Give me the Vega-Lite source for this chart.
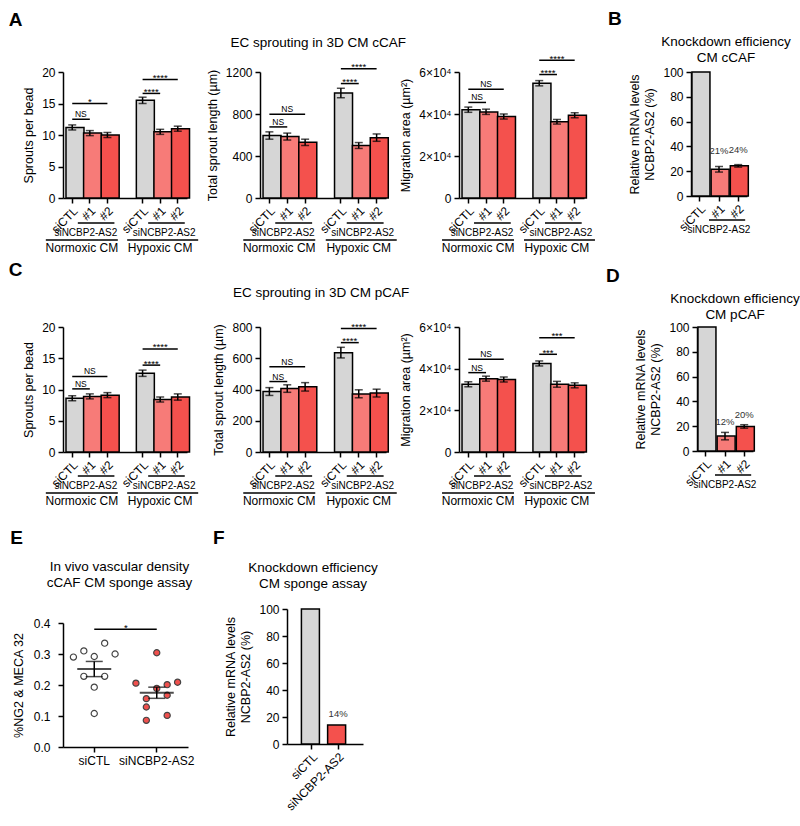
{
"$schema":"https://vega.github.io/schema/vega-lite/v6.json",
"background":"white",
"padding":{"left":8,"top":9,"right":4,"bottom":4},
"config":{
 "font":"Liberation Sans",
 "view":{"stroke":null},
 "axis":{"domainColor":"#000","tickColor":"#000","labelColor":"#000","titleColor":"#000","domainWidth":1.5,"tickWidth":1.5,"tickSize":5,"labelFontSize":12,"titleFontSize":12.5,"titleFontWeight":"normal","grid":false,"labelPadding":3,"titlePadding":6},
 "title":{"fontSize":13.5,"fontWeight":"normal","color":"#000"}
},
"datasets":{
 "bars":[
  {"p":"A1","c":"N_C","g":"siCTL","m":11.2,"lo":10.8,"hi":11.6},
  {"p":"A1","c":"N_1","g":"#1","m":10.3,"lo":9.9,"hi":10.7},
  {"p":"A1","c":"N_2","g":"#2","m":10.0,"lo":9.6,"hi":10.4},
  {"p":"A1","c":"H_C","g":"siCTL","m":15.5,"lo":15.0,"hi":16.0},
  {"p":"A1","c":"H_1","g":"#1","m":10.5,"lo":10.1,"hi":10.9},
  {"p":"A1","c":"H_2","g":"#2","m":11.0,"lo":10.6,"hi":11.4},
  {"p":"A2","c":"N_C","g":"siCTL","m":595,"lo":560,"hi":630},
  {"p":"A2","c":"N_1","g":"#1","m":585,"lo":552,"hi":618},
  {"p":"A2","c":"N_2","g":"#2","m":530,"lo":500,"hi":560},
  {"p":"A2","c":"H_C","g":"siCTL","m":1000,"lo":955,"hi":1045},
  {"p":"A2","c":"H_1","g":"#1","m":500,"lo":472,"hi":528},
  {"p":"A2","c":"H_2","g":"#2","m":575,"lo":540,"hi":610},
  {"p":"A3","c":"N_C","g":"siCTL","m":42000,"lo":40800,"hi":43300},
  {"p":"A3","c":"N_1","g":"#1","m":41000,"lo":39800,"hi":42300},
  {"p":"A3","c":"N_2","g":"#2","m":38800,"lo":37600,"hi":40000},
  {"p":"A3","c":"H_C","g":"siCTL","m":54600,"lo":53400,"hi":55900},
  {"p":"A3","c":"H_1","g":"#1","m":36300,"lo":35200,"hi":37400},
  {"p":"A3","c":"H_2","g":"#2","m":39400,"lo":38200,"hi":40600},
  {"p":"B","c":"C","g":"siCTL","m":100,"lo":100,"hi":100},
  {"p":"B","c":"1","g":"#1","m":21.5,"lo":19.3,"hi":23.8,"lab":"21%"},
  {"p":"B","c":"2","g":"#2","m":24.3,"lo":23.3,"hi":25.3,"lab":"24%"},
  {"p":"C1","c":"N_C","g":"siCTL","m":8.6,"lo":8.2,"hi":9.0},
  {"p":"C1","c":"N_1","g":"#1","m":8.9,"lo":8.5,"hi":9.3},
  {"p":"C1","c":"N_2","g":"#2","m":9.1,"lo":8.7,"hi":9.5},
  {"p":"C1","c":"H_C","g":"siCTL","m":12.6,"lo":12.1,"hi":13.1},
  {"p":"C1","c":"H_1","g":"#1","m":8.4,"lo":8.0,"hi":8.8},
  {"p":"C1","c":"H_2","g":"#2","m":8.8,"lo":8.3,"hi":9.3},
  {"p":"C2","c":"N_C","g":"siCTL","m":387,"lo":362,"hi":412},
  {"p":"C2","c":"N_1","g":"#1","m":406,"lo":382,"hi":430},
  {"p":"C2","c":"N_2","g":"#2","m":417,"lo":390,"hi":444},
  {"p":"C2","c":"H_C","g":"siCTL","m":636,"lo":602,"hi":670},
  {"p":"C2","c":"H_1","g":"#1","m":372,"lo":347,"hi":398},
  {"p":"C2","c":"H_2","g":"#2","m":377,"lo":352,"hi":402},
  {"p":"C3","c":"N_C","g":"siCTL","m":32500,"lo":31300,"hi":33700},
  {"p":"C3","c":"N_1","g":"#1","m":35200,"lo":34000,"hi":36400},
  {"p":"C3","c":"N_2","g":"#2","m":34800,"lo":33600,"hi":36000},
  {"p":"C3","c":"H_C","g":"siCTL","m":42500,"lo":41300,"hi":43700},
  {"p":"C3","c":"H_1","g":"#1","m":32500,"lo":31100,"hi":33900},
  {"p":"C3","c":"H_2","g":"#2","m":32000,"lo":30800,"hi":33200},
  {"p":"D","c":"C","g":"siCTL","m":100,"lo":100,"hi":100},
  {"p":"D","c":"1","g":"#1","m":12,"lo":9,"hi":15,"lab":"12%"},
  {"p":"D","c":"2","g":"#2","m":19.8,"lo":18.4,"hi":21.2,"lab":"20%"},
  {"p":"F","c":"siCTL","g":"siCTL","m":100,"lo":100,"hi":100},
  {"p":"F","c":"siNCBP2-AS2","g":"#2","m":14,"lo":14,"hi":14,"lab":"14%"}
 ],
 "sigl":[
  {"p":"A1","c":"N_C","c2":"N_1","m":12.5},{"p":"A1","c":"N_C","c2":"N_2","m":15.0},{"p":"A1","c":"H_C","c2":"H_1","m":16.6},{"p":"A1","c":"H_C","c2":"H_2","m":18.8},
  {"p":"A2","c":"N_C","c2":"N_1","m":677},{"p":"A2","c":"N_C","c2":"N_2","m":798},{"p":"A2","c":"H_C","c2":"H_1","m":1090},{"p":"A2","c":"H_C","c2":"H_2","m":1232},
  {"p":"A3","c":"N_C","c2":"N_1","m":45500},{"p":"A3","c":"N_C","c2":"N_2","m":51800},{"p":"A3","c":"H_C","c2":"H_1","m":58800},{"p":"A3","c":"H_C","c2":"H_2","m":65600},
  {"p":"C1","c":"N_C","c2":"N_1","m":10.1},{"p":"C1","c":"N_C","c2":"N_2","m":12.1},{"p":"C1","c":"H_C","c2":"H_1","m":13.9},{"p":"C1","c":"H_C","c2":"H_2","m":16.5},
  {"p":"C2","c":"N_C","c2":"N_1","m":451},{"p":"C2","c":"N_C","c2":"N_2","m":545},{"p":"C2","c":"H_C","c2":"H_1","m":700},{"p":"C2","c":"H_C","c2":"H_2","m":791},
  {"p":"C3","c":"N_C","c2":"N_1","m":38100},{"p":"C3","c":"N_C","c2":"N_2","m":44500},{"p":"C3","c":"H_C","c2":"H_1","m":46900},{"p":"C3","c":"H_C","c2":"H_2","m":54800},
  {"p":"E","c":"siCTL","c2":"siNCBP2-AS2","m":0.38}
 ],
 "sigt":[
  {"p":"A1","c":"N_1","m":12.5,"t":"NS","k":"s"},{"p":"A1","c":"N_1","m":15.0,"t":"*","k":"l"},{"p":"A1","c":"H_1","m":16.6,"t":"****","k":"s"},{"p":"A1","c":"H_1","m":18.8,"t":"****","k":"l"},
  {"p":"A2","c":"N_1","m":677,"t":"NS","k":"s"},{"p":"A2","c":"N_1","m":798,"t":"NS","k":"l"},{"p":"A2","c":"H_1","m":1090,"t":"****","k":"s"},{"p":"A2","c":"H_1","m":1232,"t":"****","k":"l"},
  {"p":"A3","c":"N_1","m":45500,"t":"NS","k":"s"},{"p":"A3","c":"N_1","m":51800,"t":"NS","k":"l"},{"p":"A3","c":"H_1","m":58800,"t":"****","k":"s"},{"p":"A3","c":"H_1","m":65600,"t":"****","k":"l"},
  {"p":"C1","c":"N_1","m":10.1,"t":"NS","k":"s"},{"p":"C1","c":"N_1","m":12.1,"t":"NS","k":"l"},{"p":"C1","c":"H_1","m":13.9,"t":"****","k":"s"},{"p":"C1","c":"H_1","m":16.5,"t":"****","k":"l"},
  {"p":"C2","c":"N_1","m":451,"t":"NS","k":"s"},{"p":"C2","c":"N_1","m":545,"t":"NS","k":"l"},{"p":"C2","c":"H_1","m":700,"t":"****","k":"s"},{"p":"C2","c":"H_1","m":791,"t":"****","k":"l"},
  {"p":"C3","c":"N_1","m":38100,"t":"NS","k":"s"},{"p":"C3","c":"N_1","m":44500,"t":"NS","k":"l"},{"p":"C3","c":"H_1","m":46900,"t":"***","k":"s"},{"p":"C3","c":"H_1","m":54800,"t":"***","k":"l"},
  {"p":"E","c":"siNCBP2-AS2","m":0.38,"t":"*","k":"e"}
 ],
 "under":[
  {"g":"N","c":"N_1","c2":"N_2","t":"siNCBP2-AS2","l":"Normoxic CM"},
  {"g":"H","c":"H_1","c2":"H_2","t":"siNCBP2-AS2","l":"Hypoxic CM"}
 ],
 "underB":[{"c":"1","c2":"2","t":"siNCBP2-AS2"}],
 "pts":[
  {"c":"siCTL","v":0.335,"r":4},{"c":"siCTL","v":0.31,"r":2},{"c":"siCTL","v":0.30,"r":5},{"c":"siCTL","v":0.29,"r":1},{"c":"siCTL","v":0.292,"r":3},{"c":"siCTL","v":0.228,"r":2},{"c":"siCTL","v":0.228,"r":4},{"c":"siCTL","v":0.193,"r":3},{"c":"siCTL","v":0.108,"r":3},
  {"c":"siNCBP2-AS2","v":0.304,"r":3},{"c":"siNCBP2-AS2","v":0.206,"r":1},{"c":"siNCBP2-AS2","v":0.201,"r":4},{"c":"siNCBP2-AS2","v":0.209,"r":5},{"c":"siNCBP2-AS2","v":0.189,"r":3},{"c":"siNCBP2-AS2","v":0.156,"r":2},{"c":"siNCBP2-AS2","v":0.167,"r":4},{"c":"siNCBP2-AS2","v":0.129,"r":2},{"c":"siNCBP2-AS2","v":0.102,"r":4},{"c":"siNCBP2-AS2","v":0.086,"r":2}
 ],
 "stats":[
  {"c":"siCTL","m":0.252,"lo":0.227,"hi":0.276},
  {"c":"siNCBP2-AS2","m":0.175,"lo":0.157,"hi":0.193}
 ]
},
"vconcat":[
 {"vconcat":[
  {"hconcat":[
   {"title":{"text":"A","anchor":"start","fontSize":19,"fontWeight":"bold","dx":-14,"offset":6},
    "vconcat":[{"title":{"text":"EC sprouting in 3D CM cCAF","anchor":"middle","dx":9,"offset":4},"bounds":"flush","spacing":73,"hconcat":[
     {"width":124,"height":126,
      "encoding":{"x":{"field":"c","type":"nominal","scale":{"domain":["N_C","N_1","N_2","gap","H_C","H_1","H_2"],"paddingInner":0.29,"paddingOuter":0.17},"axis":{"title":null,"values":["N_C","N_1","N_2","H_C","H_1","H_2"],"labelAngle":-45,"labelPadding":2,"labelExpr":"substring(datum.value,2)=='C' ? 'siCTL' : '#' + substring(datum.value,2)"}}},
      "layer":[
       {"data":{"name":"bars"},"transform":[{"filter":"datum.p=='A1'"}],"mark":{"type":"bar","stroke":"#000","strokeWidth":1.5},"encoding":{"y":{"field":"m","type":"quantitative","scale":{"domain":[0,20],"nice":false},"axis":{"title":"Sprouts per bead","values":[0,5,10,15,20],"tickCount":20}},"color":{"field":"g","type":"nominal","scale":{"domain":["siCTL","#1","#2"],"range":["#d6d6d6","#f77b78","#f4514d"]},"legend":null}}},
       {"data":{"name":"bars"},"transform":[{"filter":"datum.p=='A1'"}],"mark":{"type":"rule","color":"#000","strokeWidth":1.5},"encoding":{"y":{"field":"lo","type":"quantitative"},"y2":{"field":"hi"}}},
       {"data":{"name":"bars"},"transform":[{"filter":"datum.p=='A1'"}],"mark":{"type":"tick","color":"#000","size":8,"thickness":1.5},"encoding":{"y":{"field":"lo","type":"quantitative"}}},
       {"data":{"name":"bars"},"transform":[{"filter":"datum.p=='A1'"}],"mark":{"type":"tick","color":"#000","size":8,"thickness":1.5},"encoding":{"y":{"field":"hi","type":"quantitative"}}},
       {"data":{"name":"sigl"},"transform":[{"filter":"datum.p=='A1'"}],"mark":{"type":"rule","color":"#000","strokeWidth":1.5},"encoding":{"x2":{"field":"c2"},"y":{"field":"m","type":"quantitative","scale":{"domain":[0,20],"nice":false}}}},
       {"data":{"name":"sigt"},"transform":[{"filter":"datum.p=='A1' && datum.k=='s' && datum.t=='NS'"}],"mark":{"type":"text","fontSize":8.5,"xOffset":-9,"dy":-2,"baseline":"alphabetic"},"encoding":{"y":{"field":"m","type":"quantitative","scale":{"domain":[0,20],"nice":false}},"text":{"field":"t"}}},
       {"data":{"name":"sigt"},"transform":[{"filter":"datum.p=='A1' && datum.k=='s' && datum.t!='NS'"}],"mark":{"type":"text","fontSize":9.5,"xOffset":-9,"dy":1.5,"baseline":"alphabetic"},"encoding":{"y":{"field":"m","type":"quantitative","scale":{"domain":[0,20],"nice":false}},"text":{"field":"t"}}},
       {"data":{"name":"sigt"},"transform":[{"filter":"datum.p=='A1' && datum.k=='l' && datum.t=='NS'"}],"mark":{"type":"text","fontSize":8.5,"dy":-2,"baseline":"alphabetic"},"encoding":{"y":{"field":"m","type":"quantitative","scale":{"domain":[0,20],"nice":false}},"text":{"field":"t"}}},
       {"data":{"name":"sigt"},"transform":[{"filter":"datum.p=='A1' && datum.k=='l' && datum.t!='NS'"}],"mark":{"type":"text","fontSize":9.5,"dy":1.5,"baseline":"alphabetic"},"encoding":{"y":{"field":"m","type":"quantitative","scale":{"domain":[0,20],"nice":false}},"text":{"field":"t"}}},
       {"data":{"name":"under"},"mark":{"type":"rule","color":"#000","strokeWidth":1.5,"yOffset":25,"xOffset":-12,"x2Offset":7},"encoding":{"x2":{"field":"c2"},"y":{"datum":0}}},
       {"data":{"name":"under"},"transform":[{"filter":"datum.g=='N'"}],"mark":{"type":"text","fontSize":10,"yOffset":35,"xOffset":-4},"encoding":{"y":{"datum":0},"text":{"field":"t"}}},
       {"data":{"name":"under"},"transform":[{"filter":"datum.g=='H'"}],"mark":{"type":"text","fontSize":10,"yOffset":35,"xOffset":4},"encoding":{"y":{"datum":0},"text":{"field":"t"}}},
       {"data":{"name":"under"},"transform":[{"filter":"datum.g=='N'"}],"mark":{"type":"rule","color":"#000","strokeWidth":1.5,"yOffset":42,"xOffset":-44,"x2Offset":28},"encoding":{"x2":{"field":"c"},"y":{"datum":0}}},
       {"data":{"name":"under"},"transform":[{"filter":"datum.g=='H'"}],"mark":{"type":"rule","color":"#000","strokeWidth":1.5,"yOffset":42,"xOffset":-33,"x2Offset":38},"encoding":{"x2":{"field":"c"},"y":{"datum":0}}},
       {"data":{"name":"under"},"transform":[{"filter":"datum.g=='N'"}],"mark":{"type":"text","fontSize":12,"yOffset":50,"xOffset":-8},"encoding":{"y":{"datum":0},"text":{"field":"l"}}},
       {"data":{"name":"under"},"transform":[{"filter":"datum.g=='H'"}],"mark":{"type":"text","fontSize":12,"yOffset":50,"xOffset":0},"encoding":{"y":{"datum":0},"text":{"field":"l"}}}
      ]},
     {"width":126,"height":126,
      "encoding":{"x":{"field":"c","type":"nominal","scale":{"domain":["N_C","N_1","N_2","gap","H_C","H_1","H_2"],"paddingInner":0.29,"paddingOuter":0.17},"axis":{"title":null,"values":["N_C","N_1","N_2","H_C","H_1","H_2"],"labelAngle":-45,"labelPadding":2,"labelExpr":"substring(datum.value,2)=='C' ? 'siCTL' : '#' + substring(datum.value,2)"}}},
      "layer":[
       {"data":{"name":"bars"},"transform":[{"filter":"datum.p=='A2'"}],"mark":{"type":"bar","stroke":"#000","strokeWidth":1.5},"encoding":{"y":{"field":"m","type":"quantitative","scale":{"domain":[0,1200],"nice":false},"axis":{"title":"Total sprout length (µm)","values":[0,400,800,1200],"tickCount":20,"format":"d"}},"color":{"field":"g","type":"nominal","scale":{"domain":["siCTL","#1","#2"],"range":["#d6d6d6","#f77b78","#f4514d"]},"legend":null}}},
       {"data":{"name":"bars"},"transform":[{"filter":"datum.p=='A2'"}],"mark":{"type":"rule","color":"#000","strokeWidth":1.5},"encoding":{"y":{"field":"lo","type":"quantitative"},"y2":{"field":"hi"}}},
       {"data":{"name":"bars"},"transform":[{"filter":"datum.p=='A2'"}],"mark":{"type":"tick","color":"#000","size":8,"thickness":1.5},"encoding":{"y":{"field":"lo","type":"quantitative"}}},
       {"data":{"name":"bars"},"transform":[{"filter":"datum.p=='A2'"}],"mark":{"type":"tick","color":"#000","size":8,"thickness":1.5},"encoding":{"y":{"field":"hi","type":"quantitative"}}},
       {"data":{"name":"sigl"},"transform":[{"filter":"datum.p=='A2'"}],"mark":{"type":"rule","color":"#000","strokeWidth":1.5},"encoding":{"x2":{"field":"c2"},"y":{"field":"m","type":"quantitative","scale":{"domain":[0,1200],"nice":false}}}},
       {"data":{"name":"sigt"},"transform":[{"filter":"datum.p=='A2' && datum.k=='s' && datum.t=='NS'"}],"mark":{"type":"text","fontSize":8.5,"xOffset":-9,"dy":-2,"baseline":"alphabetic"},"encoding":{"y":{"field":"m","type":"quantitative","scale":{"domain":[0,1200],"nice":false}},"text":{"field":"t"}}},
       {"data":{"name":"sigt"},"transform":[{"filter":"datum.p=='A2' && datum.k=='s' && datum.t!='NS'"}],"mark":{"type":"text","fontSize":9.5,"xOffset":-9,"dy":1.5,"baseline":"alphabetic"},"encoding":{"y":{"field":"m","type":"quantitative","scale":{"domain":[0,1200],"nice":false}},"text":{"field":"t"}}},
       {"data":{"name":"sigt"},"transform":[{"filter":"datum.p=='A2' && datum.k=='l' && datum.t=='NS'"}],"mark":{"type":"text","fontSize":8.5,"dy":-2,"baseline":"alphabetic"},"encoding":{"y":{"field":"m","type":"quantitative","scale":{"domain":[0,1200],"nice":false}},"text":{"field":"t"}}},
       {"data":{"name":"sigt"},"transform":[{"filter":"datum.p=='A2' && datum.k=='l' && datum.t!='NS'"}],"mark":{"type":"text","fontSize":9.5,"dy":1.5,"baseline":"alphabetic"},"encoding":{"y":{"field":"m","type":"quantitative","scale":{"domain":[0,1200],"nice":false}},"text":{"field":"t"}}},
       {"data":{"name":"under"},"mark":{"type":"rule","color":"#000","strokeWidth":1.5,"yOffset":25,"xOffset":-12,"x2Offset":7},"encoding":{"x2":{"field":"c2"},"y":{"datum":0}}},
       {"data":{"name":"under"},"transform":[{"filter":"datum.g=='N'"}],"mark":{"type":"text","fontSize":10,"yOffset":35,"xOffset":-4},"encoding":{"y":{"datum":0},"text":{"field":"t"}}},
       {"data":{"name":"under"},"transform":[{"filter":"datum.g=='H'"}],"mark":{"type":"text","fontSize":10,"yOffset":35,"xOffset":4},"encoding":{"y":{"datum":0},"text":{"field":"t"}}},
       {"data":{"name":"under"},"transform":[{"filter":"datum.g=='N'"}],"mark":{"type":"rule","color":"#000","strokeWidth":1.5,"yOffset":42,"xOffset":-44,"x2Offset":28},"encoding":{"x2":{"field":"c"},"y":{"datum":0}}},
       {"data":{"name":"under"},"transform":[{"filter":"datum.g=='H'"}],"mark":{"type":"rule","color":"#000","strokeWidth":1.5,"yOffset":42,"xOffset":-33,"x2Offset":38},"encoding":{"x2":{"field":"c"},"y":{"datum":0}}},
       {"data":{"name":"under"},"transform":[{"filter":"datum.g=='N'"}],"mark":{"type":"text","fontSize":12,"yOffset":50,"xOffset":-8},"encoding":{"y":{"datum":0},"text":{"field":"l"}}},
       {"data":{"name":"under"},"transform":[{"filter":"datum.g=='H'"}],"mark":{"type":"text","fontSize":12,"yOffset":50,"xOffset":0},"encoding":{"y":{"datum":0},"text":{"field":"l"}}}
      ]},
     {"width":125,"height":126,
      "encoding":{"x":{"field":"c","type":"nominal","scale":{"domain":["N_C","N_1","N_2","gap","H_C","H_1","H_2"],"paddingInner":0.29,"paddingOuter":0.17},"axis":{"title":null,"values":["N_C","N_1","N_2","H_C","H_1","H_2"],"labelAngle":-45,"labelPadding":2,"labelExpr":"substring(datum.value,2)=='C' ? 'siCTL' : '#' + substring(datum.value,2)"}}},
      "layer":[
       {"data":{"name":"bars"},"transform":[{"filter":"datum.p=='A3'"}],"mark":{"type":"bar","stroke":"#000","strokeWidth":1.5},"encoding":{"y":{"field":"m","type":"quantitative","scale":{"domain":[0,60000],"nice":false},"axis":{"title":"Migration area (µm²)","values":[0,20000,40000,60000],"tickCount":20,"labelExpr":"datum.value==0 ? '0' : (datum.value/10000) + '×10⁴'"}},"color":{"field":"g","type":"nominal","scale":{"domain":["siCTL","#1","#2"],"range":["#d6d6d6","#f77b78","#f4514d"]},"legend":null}}},
       {"data":{"name":"bars"},"transform":[{"filter":"datum.p=='A3'"}],"mark":{"type":"rule","color":"#000","strokeWidth":1.5},"encoding":{"y":{"field":"lo","type":"quantitative"},"y2":{"field":"hi"}}},
       {"data":{"name":"bars"},"transform":[{"filter":"datum.p=='A3'"}],"mark":{"type":"tick","color":"#000","size":8,"thickness":1.5},"encoding":{"y":{"field":"lo","type":"quantitative"}}},
       {"data":{"name":"bars"},"transform":[{"filter":"datum.p=='A3'"}],"mark":{"type":"tick","color":"#000","size":8,"thickness":1.5},"encoding":{"y":{"field":"hi","type":"quantitative"}}},
       {"data":{"name":"sigl"},"transform":[{"filter":"datum.p=='A3'"}],"mark":{"type":"rule","color":"#000","strokeWidth":1.5},"encoding":{"x2":{"field":"c2"},"y":{"field":"m","type":"quantitative","scale":{"domain":[0,60000],"nice":false}}}},
       {"data":{"name":"sigt"},"transform":[{"filter":"datum.p=='A3' && datum.k=='s' && datum.t=='NS'"}],"mark":{"type":"text","fontSize":8.5,"xOffset":-9,"dy":-2,"baseline":"alphabetic"},"encoding":{"y":{"field":"m","type":"quantitative","scale":{"domain":[0,60000],"nice":false}},"text":{"field":"t"}}},
       {"data":{"name":"sigt"},"transform":[{"filter":"datum.p=='A3' && datum.k=='s' && datum.t!='NS'"}],"mark":{"type":"text","fontSize":9.5,"xOffset":-9,"dy":1.5,"baseline":"alphabetic"},"encoding":{"y":{"field":"m","type":"quantitative","scale":{"domain":[0,60000],"nice":false}},"text":{"field":"t"}}},
       {"data":{"name":"sigt"},"transform":[{"filter":"datum.p=='A3' && datum.k=='l' && datum.t=='NS'"}],"mark":{"type":"text","fontSize":8.5,"dy":-2,"baseline":"alphabetic"},"encoding":{"y":{"field":"m","type":"quantitative","scale":{"domain":[0,60000],"nice":false}},"text":{"field":"t"}}},
       {"data":{"name":"sigt"},"transform":[{"filter":"datum.p=='A3' && datum.k=='l' && datum.t!='NS'"}],"mark":{"type":"text","fontSize":9.5,"dy":1.5,"baseline":"alphabetic"},"encoding":{"y":{"field":"m","type":"quantitative","scale":{"domain":[0,60000],"nice":false}},"text":{"field":"t"}}},
       {"data":{"name":"under"},"mark":{"type":"rule","color":"#000","strokeWidth":1.5,"yOffset":25,"xOffset":-12,"x2Offset":7},"encoding":{"x2":{"field":"c2"},"y":{"datum":0}}},
       {"data":{"name":"under"},"transform":[{"filter":"datum.g=='N'"}],"mark":{"type":"text","fontSize":10,"yOffset":35,"xOffset":-4},"encoding":{"y":{"datum":0},"text":{"field":"t"}}},
       {"data":{"name":"under"},"transform":[{"filter":"datum.g=='H'"}],"mark":{"type":"text","fontSize":10,"yOffset":35,"xOffset":4},"encoding":{"y":{"datum":0},"text":{"field":"t"}}},
       {"data":{"name":"under"},"transform":[{"filter":"datum.g=='N'"}],"mark":{"type":"rule","color":"#000","strokeWidth":1.5,"yOffset":42,"xOffset":-44,"x2Offset":28},"encoding":{"x2":{"field":"c"},"y":{"datum":0}}},
       {"data":{"name":"under"},"transform":[{"filter":"datum.g=='H'"}],"mark":{"type":"rule","color":"#000","strokeWidth":1.5,"yOffset":42,"xOffset":-33,"x2Offset":38},"encoding":{"x2":{"field":"c"},"y":{"datum":0}}},
       {"data":{"name":"under"},"transform":[{"filter":"datum.g=='N'"}],"mark":{"type":"text","fontSize":12,"yOffset":50,"xOffset":-8},"encoding":{"y":{"datum":0},"text":{"field":"l"}}},
       {"data":{"name":"under"},"transform":[{"filter":"datum.g=='H'"}],"mark":{"type":"text","fontSize":12,"yOffset":50,"xOffset":0},"encoding":{"y":{"datum":0},"text":{"field":"l"}}}
      ]}
    ]}]},
   {"title":{"text":"B","anchor":"start","fontSize":19,"fontWeight":"bold","dx":-21,"offset":6},
    "vconcat":[
     {"width":56,"height":124,"title":{"text":["Knockdown efficiency","CM cCAF"],"anchor":"middle","frame":"group","dx":7,"offset":2,"lineHeight":16},
      "encoding":{"x":{"field":"c","type":"nominal","scale":{"domain":["C","1","2"],"paddingInner":0.18,"paddingOuter":0.05},"axis":{"title":null,"labelAngle":-45,"labelPadding":2,"labelExpr":"datum.value=='C' ? 'siCTL' : '#' + datum.value"}}},
      "layer":[
       {"data":{"name":"bars"},"transform":[{"filter":"datum.p=='B'"}],"mark":{"type":"bar","stroke":"#000","strokeWidth":1.5},"encoding":{"y":{"field":"m","type":"quantitative","scale":{"domain":[0,100],"nice":false},"axis":{"title":["Relative mRNA levels","NCBP2-AS2 (%)"],"titleLineHeight":15,"values":[0,20,40,60,80,100],"tickCount":20}},"color":{"field":"g","type":"nominal","scale":{"domain":["siCTL","#1","#2"],"range":["#d6d6d6","#f77b78","#f4514d"]},"legend":null}}},
       {"data":{"name":"bars"},"transform":[{"filter":"datum.p=='B' && datum.lo<datum.hi"}],"mark":{"type":"rule","color":"#000","strokeWidth":1.5},"encoding":{"y":{"field":"lo","type":"quantitative"},"y2":{"field":"hi"}}},
       {"data":{"name":"bars"},"transform":[{"filter":"datum.p=='B' && datum.lo<datum.hi"}],"mark":{"type":"tick","color":"#000","size":8,"thickness":1.5},"encoding":{"y":{"field":"lo","type":"quantitative"}}},
       {"data":{"name":"bars"},"transform":[{"filter":"datum.p=='B' && datum.lo<datum.hi"}],"mark":{"type":"tick","color":"#000","size":8,"thickness":1.5},"encoding":{"y":{"field":"hi","type":"quantitative"}}},
       {"data":{"name":"bars"},"transform":[{"filter":"datum.p=='B' && isValid(datum.lab)"}],"mark":{"type":"text","fontSize":9.5,"dy":-15,"color":"#333"},"encoding":{"y":{"field":"hi","type":"quantitative"},"text":{"field":"lab"}}},
       {"data":{"name":"underB"},"mark":{"type":"rule","color":"#000","strokeWidth":1.5,"yOffset":24,"xOffset":-10,"x2Offset":7},"encoding":{"x2":{"field":"c2"},"y":{"datum":0}}},
       {"data":{"name":"underB"},"mark":{"type":"text","fontSize":10,"yOffset":34},"encoding":{"y":{"datum":0},"text":{"field":"t"}}}
      ]}
    ]}
  ],"spacing":11},
  {"hconcat":[
   {"title":{"text":"C","anchor":"start","fontSize":19,"fontWeight":"bold","dx":-14,"offset":6},
    "vconcat":[{"title":{"text":"EC sprouting in 3D CM pCAF","anchor":"middle","dx":12,"offset":22},"bounds":"flush","spacing":73,"hconcat":[
     {"width":124,"height":125,
      "encoding":{"x":{"field":"c","type":"nominal","scale":{"domain":["N_C","N_1","N_2","gap","H_C","H_1","H_2"],"paddingInner":0.29,"paddingOuter":0.17},"axis":{"title":null,"values":["N_C","N_1","N_2","H_C","H_1","H_2"],"labelAngle":-45,"labelPadding":2,"labelExpr":"substring(datum.value,2)=='C' ? 'siCTL' : '#' + substring(datum.value,2)"}}},
      "layer":[
       {"data":{"name":"bars"},"transform":[{"filter":"datum.p=='C1'"}],"mark":{"type":"bar","stroke":"#000","strokeWidth":1.5},"encoding":{"y":{"field":"m","type":"quantitative","scale":{"domain":[0,20],"nice":false},"axis":{"title":"Sprouts per bead","values":[0,5,10,15,20],"tickCount":20}},"color":{"field":"g","type":"nominal","scale":{"domain":["siCTL","#1","#2"],"range":["#d6d6d6","#f77b78","#f4514d"]},"legend":null}}},
       {"data":{"name":"bars"},"transform":[{"filter":"datum.p=='C1'"}],"mark":{"type":"rule","color":"#000","strokeWidth":1.5},"encoding":{"y":{"field":"lo","type":"quantitative"},"y2":{"field":"hi"}}},
       {"data":{"name":"bars"},"transform":[{"filter":"datum.p=='C1'"}],"mark":{"type":"tick","color":"#000","size":8,"thickness":1.5},"encoding":{"y":{"field":"lo","type":"quantitative"}}},
       {"data":{"name":"bars"},"transform":[{"filter":"datum.p=='C1'"}],"mark":{"type":"tick","color":"#000","size":8,"thickness":1.5},"encoding":{"y":{"field":"hi","type":"quantitative"}}},
       {"data":{"name":"sigl"},"transform":[{"filter":"datum.p=='C1'"}],"mark":{"type":"rule","color":"#000","strokeWidth":1.5},"encoding":{"x2":{"field":"c2"},"y":{"field":"m","type":"quantitative","scale":{"domain":[0,20],"nice":false}}}},
       {"data":{"name":"sigt"},"transform":[{"filter":"datum.p=='C1' && datum.k=='s' && datum.t=='NS'"}],"mark":{"type":"text","fontSize":8.5,"xOffset":-9,"dy":-2,"baseline":"alphabetic"},"encoding":{"y":{"field":"m","type":"quantitative","scale":{"domain":[0,20],"nice":false}},"text":{"field":"t"}}},
       {"data":{"name":"sigt"},"transform":[{"filter":"datum.p=='C1' && datum.k=='s' && datum.t!='NS'"}],"mark":{"type":"text","fontSize":9.5,"xOffset":-9,"dy":1.5,"baseline":"alphabetic"},"encoding":{"y":{"field":"m","type":"quantitative","scale":{"domain":[0,20],"nice":false}},"text":{"field":"t"}}},
       {"data":{"name":"sigt"},"transform":[{"filter":"datum.p=='C1' && datum.k=='l' && datum.t=='NS'"}],"mark":{"type":"text","fontSize":8.5,"dy":-2,"baseline":"alphabetic"},"encoding":{"y":{"field":"m","type":"quantitative","scale":{"domain":[0,20],"nice":false}},"text":{"field":"t"}}},
       {"data":{"name":"sigt"},"transform":[{"filter":"datum.p=='C1' && datum.k=='l' && datum.t!='NS'"}],"mark":{"type":"text","fontSize":9.5,"dy":1.5,"baseline":"alphabetic"},"encoding":{"y":{"field":"m","type":"quantitative","scale":{"domain":[0,20],"nice":false}},"text":{"field":"t"}}},
       {"data":{"name":"under"},"mark":{"type":"rule","color":"#000","strokeWidth":1.5,"yOffset":24,"xOffset":-12,"x2Offset":7},"encoding":{"x2":{"field":"c2"},"y":{"datum":0}}},
       {"data":{"name":"under"},"transform":[{"filter":"datum.g=='N'"}],"mark":{"type":"text","fontSize":10,"yOffset":34,"xOffset":-4},"encoding":{"y":{"datum":0},"text":{"field":"t"}}},
       {"data":{"name":"under"},"transform":[{"filter":"datum.g=='H'"}],"mark":{"type":"text","fontSize":10,"yOffset":34,"xOffset":4},"encoding":{"y":{"datum":0},"text":{"field":"t"}}},
       {"data":{"name":"under"},"transform":[{"filter":"datum.g=='N'"}],"mark":{"type":"rule","color":"#000","strokeWidth":1.5,"yOffset":41,"xOffset":-44,"x2Offset":28},"encoding":{"x2":{"field":"c"},"y":{"datum":0}}},
       {"data":{"name":"under"},"transform":[{"filter":"datum.g=='H'"}],"mark":{"type":"rule","color":"#000","strokeWidth":1.5,"yOffset":41,"xOffset":-33,"x2Offset":38},"encoding":{"x2":{"field":"c"},"y":{"datum":0}}},
       {"data":{"name":"under"},"transform":[{"filter":"datum.g=='N'"}],"mark":{"type":"text","fontSize":12,"yOffset":49,"xOffset":-8},"encoding":{"y":{"datum":0},"text":{"field":"l"}}},
       {"data":{"name":"under"},"transform":[{"filter":"datum.g=='H'"}],"mark":{"type":"text","fontSize":12,"yOffset":49,"xOffset":0},"encoding":{"y":{"datum":0},"text":{"field":"l"}}}
      ]},
     {"width":126,"height":125,
      "encoding":{"x":{"field":"c","type":"nominal","scale":{"domain":["N_C","N_1","N_2","gap","H_C","H_1","H_2"],"paddingInner":0.29,"paddingOuter":0.17},"axis":{"title":null,"values":["N_C","N_1","N_2","H_C","H_1","H_2"],"labelAngle":-45,"labelPadding":2,"labelExpr":"substring(datum.value,2)=='C' ? 'siCTL' : '#' + substring(datum.value,2)"}}},
      "layer":[
       {"data":{"name":"bars"},"transform":[{"filter":"datum.p=='C2'"}],"mark":{"type":"bar","stroke":"#000","strokeWidth":1.5},"encoding":{"y":{"field":"m","type":"quantitative","scale":{"domain":[0,800],"nice":false},"axis":{"title":"Total sprout length (µm)","values":[0,200,400,600,800],"tickCount":20,"format":"d"}},"color":{"field":"g","type":"nominal","scale":{"domain":["siCTL","#1","#2"],"range":["#d6d6d6","#f77b78","#f4514d"]},"legend":null}}},
       {"data":{"name":"bars"},"transform":[{"filter":"datum.p=='C2'"}],"mark":{"type":"rule","color":"#000","strokeWidth":1.5},"encoding":{"y":{"field":"lo","type":"quantitative"},"y2":{"field":"hi"}}},
       {"data":{"name":"bars"},"transform":[{"filter":"datum.p=='C2'"}],"mark":{"type":"tick","color":"#000","size":8,"thickness":1.5},"encoding":{"y":{"field":"lo","type":"quantitative"}}},
       {"data":{"name":"bars"},"transform":[{"filter":"datum.p=='C2'"}],"mark":{"type":"tick","color":"#000","size":8,"thickness":1.5},"encoding":{"y":{"field":"hi","type":"quantitative"}}},
       {"data":{"name":"sigl"},"transform":[{"filter":"datum.p=='C2'"}],"mark":{"type":"rule","color":"#000","strokeWidth":1.5},"encoding":{"x2":{"field":"c2"},"y":{"field":"m","type":"quantitative","scale":{"domain":[0,800],"nice":false}}}},
       {"data":{"name":"sigt"},"transform":[{"filter":"datum.p=='C2' && datum.k=='s' && datum.t=='NS'"}],"mark":{"type":"text","fontSize":8.5,"xOffset":-9,"dy":-2,"baseline":"alphabetic"},"encoding":{"y":{"field":"m","type":"quantitative","scale":{"domain":[0,800],"nice":false}},"text":{"field":"t"}}},
       {"data":{"name":"sigt"},"transform":[{"filter":"datum.p=='C2' && datum.k=='s' && datum.t!='NS'"}],"mark":{"type":"text","fontSize":9.5,"xOffset":-9,"dy":1.5,"baseline":"alphabetic"},"encoding":{"y":{"field":"m","type":"quantitative","scale":{"domain":[0,800],"nice":false}},"text":{"field":"t"}}},
       {"data":{"name":"sigt"},"transform":[{"filter":"datum.p=='C2' && datum.k=='l' && datum.t=='NS'"}],"mark":{"type":"text","fontSize":8.5,"dy":-2,"baseline":"alphabetic"},"encoding":{"y":{"field":"m","type":"quantitative","scale":{"domain":[0,800],"nice":false}},"text":{"field":"t"}}},
       {"data":{"name":"sigt"},"transform":[{"filter":"datum.p=='C2' && datum.k=='l' && datum.t!='NS'"}],"mark":{"type":"text","fontSize":9.5,"dy":1.5,"baseline":"alphabetic"},"encoding":{"y":{"field":"m","type":"quantitative","scale":{"domain":[0,800],"nice":false}},"text":{"field":"t"}}},
       {"data":{"name":"under"},"mark":{"type":"rule","color":"#000","strokeWidth":1.5,"yOffset":24,"xOffset":-12,"x2Offset":7},"encoding":{"x2":{"field":"c2"},"y":{"datum":0}}},
       {"data":{"name":"under"},"transform":[{"filter":"datum.g=='N'"}],"mark":{"type":"text","fontSize":10,"yOffset":34,"xOffset":-4},"encoding":{"y":{"datum":0},"text":{"field":"t"}}},
       {"data":{"name":"under"},"transform":[{"filter":"datum.g=='H'"}],"mark":{"type":"text","fontSize":10,"yOffset":34,"xOffset":4},"encoding":{"y":{"datum":0},"text":{"field":"t"}}},
       {"data":{"name":"under"},"transform":[{"filter":"datum.g=='N'"}],"mark":{"type":"rule","color":"#000","strokeWidth":1.5,"yOffset":41,"xOffset":-44,"x2Offset":28},"encoding":{"x2":{"field":"c"},"y":{"datum":0}}},
       {"data":{"name":"under"},"transform":[{"filter":"datum.g=='H'"}],"mark":{"type":"rule","color":"#000","strokeWidth":1.5,"yOffset":41,"xOffset":-33,"x2Offset":38},"encoding":{"x2":{"field":"c"},"y":{"datum":0}}},
       {"data":{"name":"under"},"transform":[{"filter":"datum.g=='N'"}],"mark":{"type":"text","fontSize":12,"yOffset":49,"xOffset":-8},"encoding":{"y":{"datum":0},"text":{"field":"l"}}},
       {"data":{"name":"under"},"transform":[{"filter":"datum.g=='H'"}],"mark":{"type":"text","fontSize":12,"yOffset":49,"xOffset":0},"encoding":{"y":{"datum":0},"text":{"field":"l"}}}
      ]},
     {"width":125,"height":125,
      "encoding":{"x":{"field":"c","type":"nominal","scale":{"domain":["N_C","N_1","N_2","gap","H_C","H_1","H_2"],"paddingInner":0.29,"paddingOuter":0.17},"axis":{"title":null,"values":["N_C","N_1","N_2","H_C","H_1","H_2"],"labelAngle":-45,"labelPadding":2,"labelExpr":"substring(datum.value,2)=='C' ? 'siCTL' : '#' + substring(datum.value,2)"}}},
      "layer":[
       {"data":{"name":"bars"},"transform":[{"filter":"datum.p=='C3'"}],"mark":{"type":"bar","stroke":"#000","strokeWidth":1.5},"encoding":{"y":{"field":"m","type":"quantitative","scale":{"domain":[0,60000],"nice":false},"axis":{"title":"Migration area (µm²)","values":[0,20000,40000,60000],"tickCount":20,"labelExpr":"datum.value==0 ? '0' : (datum.value/10000) + '×10⁴'"}},"color":{"field":"g","type":"nominal","scale":{"domain":["siCTL","#1","#2"],"range":["#d6d6d6","#f77b78","#f4514d"]},"legend":null}}},
       {"data":{"name":"bars"},"transform":[{"filter":"datum.p=='C3'"}],"mark":{"type":"rule","color":"#000","strokeWidth":1.5},"encoding":{"y":{"field":"lo","type":"quantitative"},"y2":{"field":"hi"}}},
       {"data":{"name":"bars"},"transform":[{"filter":"datum.p=='C3'"}],"mark":{"type":"tick","color":"#000","size":8,"thickness":1.5},"encoding":{"y":{"field":"lo","type":"quantitative"}}},
       {"data":{"name":"bars"},"transform":[{"filter":"datum.p=='C3'"}],"mark":{"type":"tick","color":"#000","size":8,"thickness":1.5},"encoding":{"y":{"field":"hi","type":"quantitative"}}},
       {"data":{"name":"sigl"},"transform":[{"filter":"datum.p=='C3'"}],"mark":{"type":"rule","color":"#000","strokeWidth":1.5},"encoding":{"x2":{"field":"c2"},"y":{"field":"m","type":"quantitative","scale":{"domain":[0,60000],"nice":false}}}},
       {"data":{"name":"sigt"},"transform":[{"filter":"datum.p=='C3' && datum.k=='s' && datum.t=='NS'"}],"mark":{"type":"text","fontSize":8.5,"xOffset":-9,"dy":-2,"baseline":"alphabetic"},"encoding":{"y":{"field":"m","type":"quantitative","scale":{"domain":[0,60000],"nice":false}},"text":{"field":"t"}}},
       {"data":{"name":"sigt"},"transform":[{"filter":"datum.p=='C3' && datum.k=='s' && datum.t!='NS'"}],"mark":{"type":"text","fontSize":9.5,"xOffset":-9,"dy":1.5,"baseline":"alphabetic"},"encoding":{"y":{"field":"m","type":"quantitative","scale":{"domain":[0,60000],"nice":false}},"text":{"field":"t"}}},
       {"data":{"name":"sigt"},"transform":[{"filter":"datum.p=='C3' && datum.k=='l' && datum.t=='NS'"}],"mark":{"type":"text","fontSize":8.5,"dy":-2,"baseline":"alphabetic"},"encoding":{"y":{"field":"m","type":"quantitative","scale":{"domain":[0,60000],"nice":false}},"text":{"field":"t"}}},
       {"data":{"name":"sigt"},"transform":[{"filter":"datum.p=='C3' && datum.k=='l' && datum.t!='NS'"}],"mark":{"type":"text","fontSize":9.5,"dy":1.5,"baseline":"alphabetic"},"encoding":{"y":{"field":"m","type":"quantitative","scale":{"domain":[0,60000],"nice":false}},"text":{"field":"t"}}},
       {"data":{"name":"under"},"mark":{"type":"rule","color":"#000","strokeWidth":1.5,"yOffset":24,"xOffset":-12,"x2Offset":7},"encoding":{"x2":{"field":"c2"},"y":{"datum":0}}},
       {"data":{"name":"under"},"transform":[{"filter":"datum.g=='N'"}],"mark":{"type":"text","fontSize":10,"yOffset":34,"xOffset":-4},"encoding":{"y":{"datum":0},"text":{"field":"t"}}},
       {"data":{"name":"under"},"transform":[{"filter":"datum.g=='H'"}],"mark":{"type":"text","fontSize":10,"yOffset":34,"xOffset":4},"encoding":{"y":{"datum":0},"text":{"field":"t"}}},
       {"data":{"name":"under"},"transform":[{"filter":"datum.g=='N'"}],"mark":{"type":"rule","color":"#000","strokeWidth":1.5,"yOffset":41,"xOffset":-44,"x2Offset":28},"encoding":{"x2":{"field":"c"},"y":{"datum":0}}},
       {"data":{"name":"under"},"transform":[{"filter":"datum.g=='H'"}],"mark":{"type":"rule","color":"#000","strokeWidth":1.5,"yOffset":41,"xOffset":-33,"x2Offset":38},"encoding":{"x2":{"field":"c"},"y":{"datum":0}}},
       {"data":{"name":"under"},"transform":[{"filter":"datum.g=='N'"}],"mark":{"type":"text","fontSize":12,"yOffset":49,"xOffset":-8},"encoding":{"y":{"datum":0},"text":{"field":"l"}}},
       {"data":{"name":"under"},"transform":[{"filter":"datum.g=='H'"}],"mark":{"type":"text","fontSize":12,"yOffset":49,"xOffset":0},"encoding":{"y":{"datum":0},"text":{"field":"l"}}}
      ]}
    ]}]},
   {"title":{"text":"D","anchor":"start","fontSize":19,"fontWeight":"bold","dx":-29,"offset":6},
    "vconcat":[
     {"width":56,"height":124,"title":{"text":["Knockdown efficiency","CM pCAF"],"anchor":"middle","frame":"group","dx":10,"offset":0,"lineHeight":16},
      "encoding":{"x":{"field":"c","type":"nominal","scale":{"domain":["C","1","2"],"paddingInner":0.18,"paddingOuter":0.05},"axis":{"title":null,"labelAngle":-45,"labelPadding":2,"labelExpr":"datum.value=='C' ? 'siCTL' : '#' + datum.value"}}},
      "layer":[
       {"data":{"name":"bars"},"transform":[{"filter":"datum.p=='D'"}],"mark":{"type":"bar","stroke":"#000","strokeWidth":1.5},"encoding":{"y":{"field":"m","type":"quantitative","scale":{"domain":[0,100],"nice":false},"axis":{"title":["Relative mRNA levels","NCBP2-AS2 (%)"],"titleLineHeight":15,"values":[0,20,40,60,80,100],"tickCount":20}},"color":{"field":"g","type":"nominal","scale":{"domain":["siCTL","#1","#2"],"range":["#d6d6d6","#f77b78","#f4514d"]},"legend":null}}},
       {"data":{"name":"bars"},"transform":[{"filter":"datum.p=='D' && datum.lo<datum.hi"}],"mark":{"type":"rule","color":"#000","strokeWidth":1.5},"encoding":{"y":{"field":"lo","type":"quantitative"},"y2":{"field":"hi"}}},
       {"data":{"name":"bars"},"transform":[{"filter":"datum.p=='D' && datum.lo<datum.hi"}],"mark":{"type":"tick","color":"#000","size":8,"thickness":1.5},"encoding":{"y":{"field":"lo","type":"quantitative"}}},
       {"data":{"name":"bars"},"transform":[{"filter":"datum.p=='D' && datum.lo<datum.hi"}],"mark":{"type":"tick","color":"#000","size":8,"thickness":1.5},"encoding":{"y":{"field":"hi","type":"quantitative"}}},
       {"data":{"name":"bars"},"transform":[{"filter":"datum.p=='D' && isValid(datum.lab)"}],"mark":{"type":"text","fontSize":9.5,"dy":-10,"color":"#333"},"encoding":{"y":{"field":"hi","type":"quantitative"},"text":{"field":"lab"}}},
       {"data":{"name":"underB"},"mark":{"type":"rule","color":"#000","strokeWidth":1.5,"yOffset":24,"xOffset":-10,"x2Offset":7},"encoding":{"x2":{"field":"c2"},"y":{"datum":0}}},
       {"data":{"name":"underB"},"mark":{"type":"text","fontSize":10,"yOffset":34},"encoding":{"y":{"datum":0},"text":{"field":"t"}}}
      ]}
    ]}
  ],"spacing":9}
 ],"spacing":6},
 {"hconcat":[
  {"title":{"text":"E","anchor":"start","fontSize":19,"fontWeight":"bold","dx":-2,"offset":12},
   "vconcat":[
    {"width":125,"height":138,"title":{"text":["In vivo vascular density","cCAF CM sponge assay"],"anchor":"middle","frame":"group","dx":-6,"offset":20,"lineHeight":16},
     "encoding":{"x":{"field":"c","type":"nominal","scale":{"domain":["siCTL","siNCBP2-AS2"],"paddingInner":0,"paddingOuter":0},"axis":{"title":null,"labelAngle":0,"labelPadding":3}}},
     "layer":[
      {"data":{"name":"pts"},"mark":{"type":"circle","size":38,"stroke":"#444","strokeWidth":1.2,"opacity":1},"encoding":{"y":{"field":"v","type":"quantitative","scale":{"domain":[0,0.4],"nice":false,"rangeMax":14},"axis":{"title":"%NG2 & MECA 32","values":[0,0.1,0.2,0.3,0.4],"tickCount":20,"format":".1f","labelPadding":8,"titlePadding":8}},"xOffset":{"field":"r","type":"nominal","scale":{"paddingInner":0,"paddingOuter":1.9}},"fill":{"field":"c","type":"nominal","scale":{"domain":["siCTL","siNCBP2-AS2"],"range":["#ffffff","#f0504d"]},"legend":null}}},
      {"data":{"name":"stats"},"mark":{"type":"tick","color":"#000","size":34,"thickness":2},"encoding":{"y":{"field":"m","type":"quantitative"}}},
      {"data":{"name":"stats"},"mark":{"type":"rule","color":"#000","strokeWidth":1.5},"encoding":{"y":{"field":"lo","type":"quantitative"},"y2":{"field":"hi"}}},
      {"data":{"name":"stats"},"mark":{"type":"tick","color":"#000","size":17,"thickness":1.5},"encoding":{"y":{"field":"lo","type":"quantitative"}}},
      {"data":{"name":"stats"},"mark":{"type":"tick","color":"#000","size":17,"thickness":1.5},"encoding":{"y":{"field":"hi","type":"quantitative"}}},
      {"data":{"name":"sigl"},"transform":[{"filter":"datum.p=='E'"}],"mark":{"type":"rule","color":"#000","strokeWidth":1.5},"encoding":{"x2":{"field":"c2"},"y":{"field":"m","type":"quantitative","scale":{"domain":[0,0.4],"nice":false,"rangeMax":14}}}},
      {"data":{"name":"sigt"},"transform":[{"filter":"datum.p=='E'"}],"mark":{"type":"text","fontSize":9.5,"xOffset":-31,"dy":1.5,"baseline":"alphabetic"},"encoding":{"y":{"field":"m","type":"quantitative","scale":{"domain":[0,0.4],"nice":false,"rangeMax":14}},"text":{"field":"t"}}}
     ]}
   ]},
  {"title":{"text":"F","anchor":"start","fontSize":19,"fontWeight":"bold","dx":-12,"offset":13},
   "vconcat":[
    {"width":76,"height":135,"title":{"text":["Knockdown efficiency","CM sponge assay"],"anchor":"middle","frame":"group","dx":-12,"offset":13,"lineHeight":16},
     "encoding":{"x":{"field":"c","type":"nominal","scale":{"domain":["siCTL","siNCBP2-AS2"],"paddingInner":0.2,"paddingOuter":0.55},"axis":{"title":null,"labelAngle":-45,"labelPadding":2}}},
     "layer":[
      {"data":{"name":"bars"},"transform":[{"filter":"datum.p=='F'"}],"mark":{"type":"bar","stroke":"#000","strokeWidth":1.5},"encoding":{"y":{"field":"m","type":"quantitative","scale":{"domain":[0,100],"nice":false},"axis":{"title":["Relative mRNA levels","NCBP2-AS2 (%)"],"titleLineHeight":15,"values":[0,20,40,60,80,100],"tickCount":20}},"color":{"field":"g","type":"nominal","scale":{"domain":["siCTL","#1","#2"],"range":["#d6d6d6","#f77b78","#f4514d"]},"legend":null}}},
      {"data":{"name":"bars"},"transform":[{"filter":"datum.p=='F' && isValid(datum.lab)"}],"mark":{"type":"text","fontSize":9.5,"dy":-11,"color":"#333"},"encoding":{"y":{"field":"hi","type":"quantitative"},"text":{"field":"lab"}}}
     ]}
   ]}
 ],"spacing":18}
],
"spacing":21
}
